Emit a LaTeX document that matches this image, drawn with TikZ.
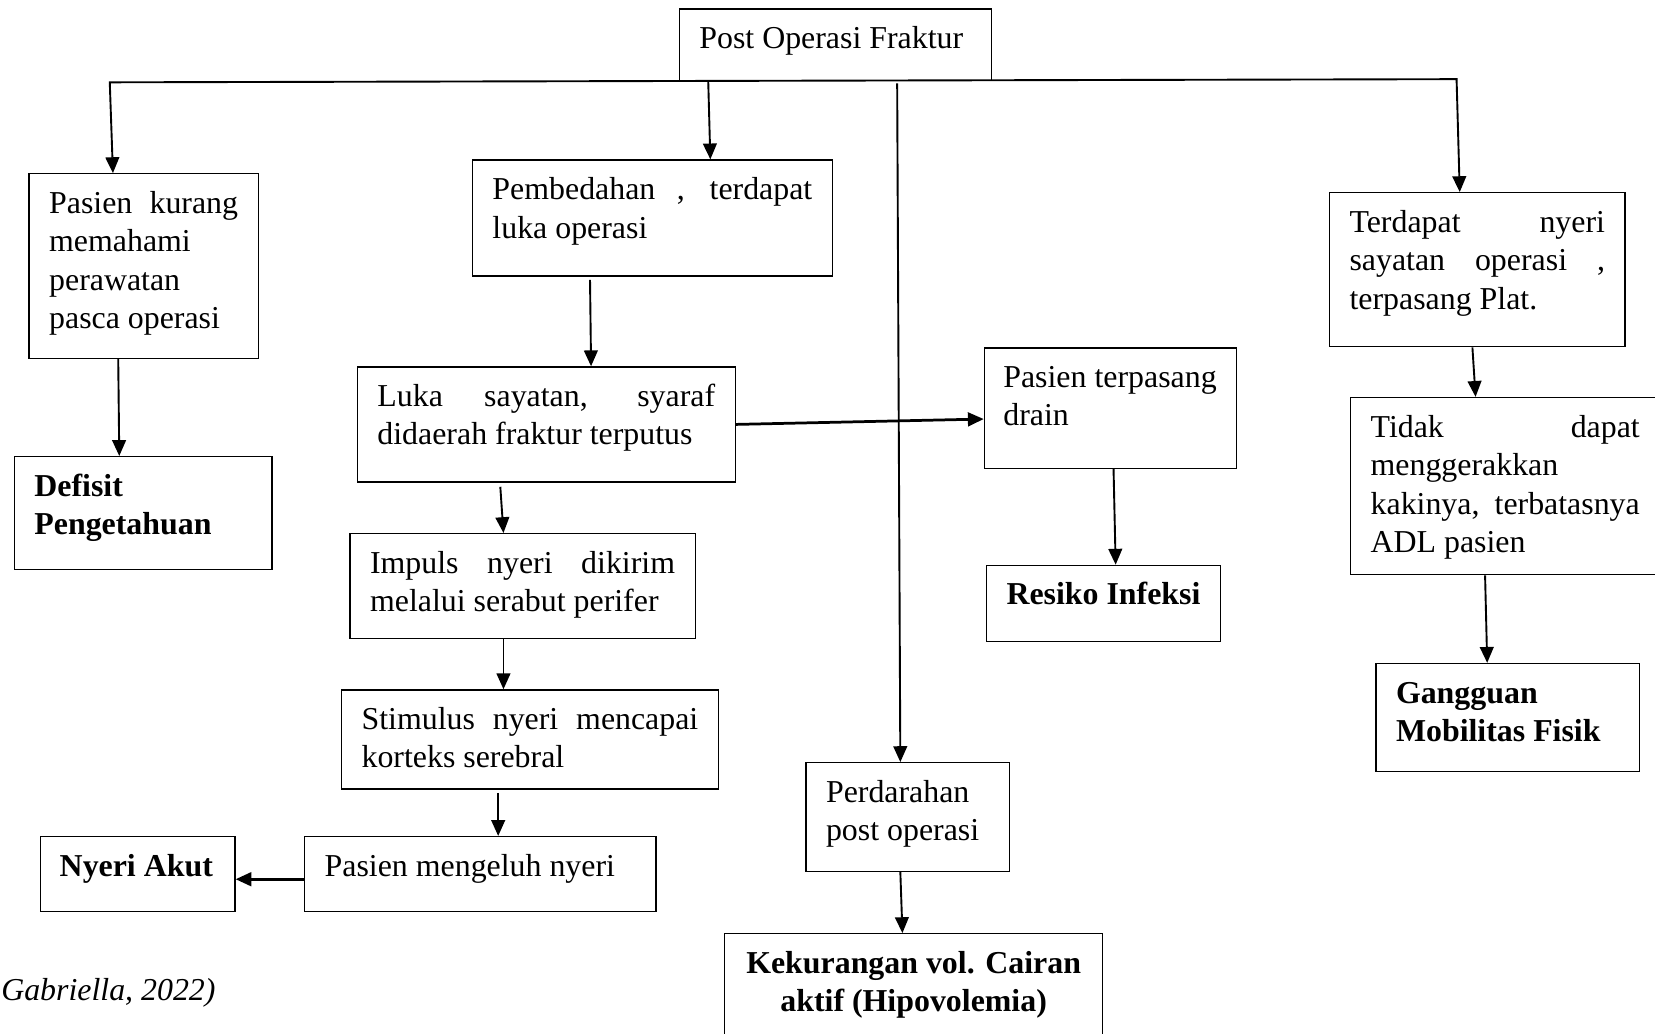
\documentclass[tikz,border=0pt]{standalone}
\usepackage{fontspec}
\setmainfont{Liberation Serif}
\usetikzlibrary{arrows.meta,calc}
\newcommand{\fsz}{\fontsize{30.2pt}{36.5pt}\selectfont}
\newcommand{\bxt}[3]{\parbox[c][#2pt][t]{#1pt}{\hyphenpenalty=10000\tolerance=10000\hbadness=10000\rule{0pt}{37.5pt}\ignorespaces#3}}
\tikzset{
  box/.style={draw, line width=1.2pt, inner ysep=0pt, inner xsep=19pt, anchor=north west, font=\fsz},
  arr/.style={line width=1.8pt, -{Triangle[length=15pt,width=13pt]}},
  arrtwo/.style={line width=1.8pt, {Triangle[length=15pt,width=13pt]}-{Triangle[length=15pt,width=13pt]}},
  thickarr/.style={arr, line width=2.6pt},
}
\begin{document}
\begin{tikzpicture}[x=1pt,y=1pt]
\useasboundingbox (0,0) rectangle (1568,-979);
\node[box] (b1) at (643,-8) {\bxt{258}{68}{Post Operasi Fraktur}};
\node[box] (b2) at (27,-164) {\bxt{179}{175}{Pasien kurang\linebreak memahami\\ perawatan\\ pasca operasi}};
\node[box] (b3) at (447,-151) {\bxt{303}{110}{Pembedahan , terdapat\linebreak luka operasi}};
\node[box] (b4) at (338,-347) {\bxt{320}{109}{Luka sayatan, syaraf\linebreak didaerah fraktur terputus}};
\node[box] (b5) at (331,-505) {\bxt{289}{99}{Impuls nyeri dikirim\linebreak melalui serabut perifer}};
\node[box] (b6) at (323,-653) {\bxt{319}{94}{Stimulus nyeri mencapai\linebreak korteks serebral}};
\node[box] (b7) at (288,-792) {\bxt{295}{71}{Pasien mengeluh nyeri}};
\node[box, inner xsep=18pt] (b8) at (38,-792) {\bxt{148}{71}{\textbf{Nyeri Akut}}};
\node[box] (b9) at (13,-432) {\bxt{206}{107}{\textbf{Defisit}\\ \textbf{Pengetahuan}}};
\node[box, inner xsep=18pt] (b10) at (932,-329) {\bxt{203}{114}{Pasien terpasang\\ drain}};
\node[box] (b11) at (934,-535) {\bxt{184}{72}{\textbf{Resiko Infeksi}}};
\node[box] (b12) at (763,-722) {\bxt{155}{103}{Perdarahan\\ post operasi}};
\node[box] (b13) at (686,-884) {\bxt{320}{110}{\centering\textbf{Kekurangan vol. Cairan}\\ \textbf{aktif (Hipovolemia)}}};
\node[box] (b14) at (1259,-182) {\bxt{242}{146}{Terdapat nyeri\linebreak sayatan operasi ,\linebreak terpasang Plat.}};
\node[box] (b15) at (1279,-376) {\bxt{255}{168}{Tidak dapat\linebreak menggerakkan\\ kakinya, terbatasnya\linebreak ADL pasien}};
\node[box] (b16) at (1303,-628) {\bxt{212}{102}{\textbf{Gangguan}\\ \textbf{Mobilitas Fisik}}};
\node[font=\fsz\itshape, anchor=base west, inner sep=0pt] (cite) at (1,-948) {Gabriella, 2022)};
\coordinate (tl) at (104,-78);
\coordinate (tr) at (1380,-75);
\coordinate (cm) at (850,-79);
\draw[arrtwo] (107,0 |- b2.north) -- (tl) -- (tr) -- (1383,0 |- b14.north);
\draw[arr] (671,0 |- b1.south) -- (673,0 |- b3.north);
\draw[arr] (cm) -- (853,0 |- b12.north);
\draw[arr] (112,0 |- b2.south) -- (113,0 |- b9.north);
\draw[arr] ($(559,0 |- b3.south)+(0,-3)$) -- (560,0 |- b4.north);
\draw[thickarr] (b4.east) -- (b10.west |- 0,-397);
\draw[arr] ($(474,0 |- b4.south)+(0,-4)$) -- (477,0 |- b5.north);
\draw[arr] (477,0 |- b5.south) -- (477,0 |- b6.north);
\draw[arr] ($(472,0 |- b6.south)+(0,-3)$) -- (472,0 |- b7.north);
\draw[thickarr] (b7.west |- 0,-833) -- (b8.east |- 0,-833);
\draw[arr] (1055,0 |- b10.south) -- (1057,0 |- b11.north);
\draw[arr] (853,0 |- b12.south) -- (855,0 |- b13.north);
\draw[arr] (1395,0 |- b14.south) -- (1398,0 |- b15.north);
\draw[arr] (1407,0 |- b15.south) -- (1409,0 |- b16.north);
\end{tikzpicture}
\end{document}
